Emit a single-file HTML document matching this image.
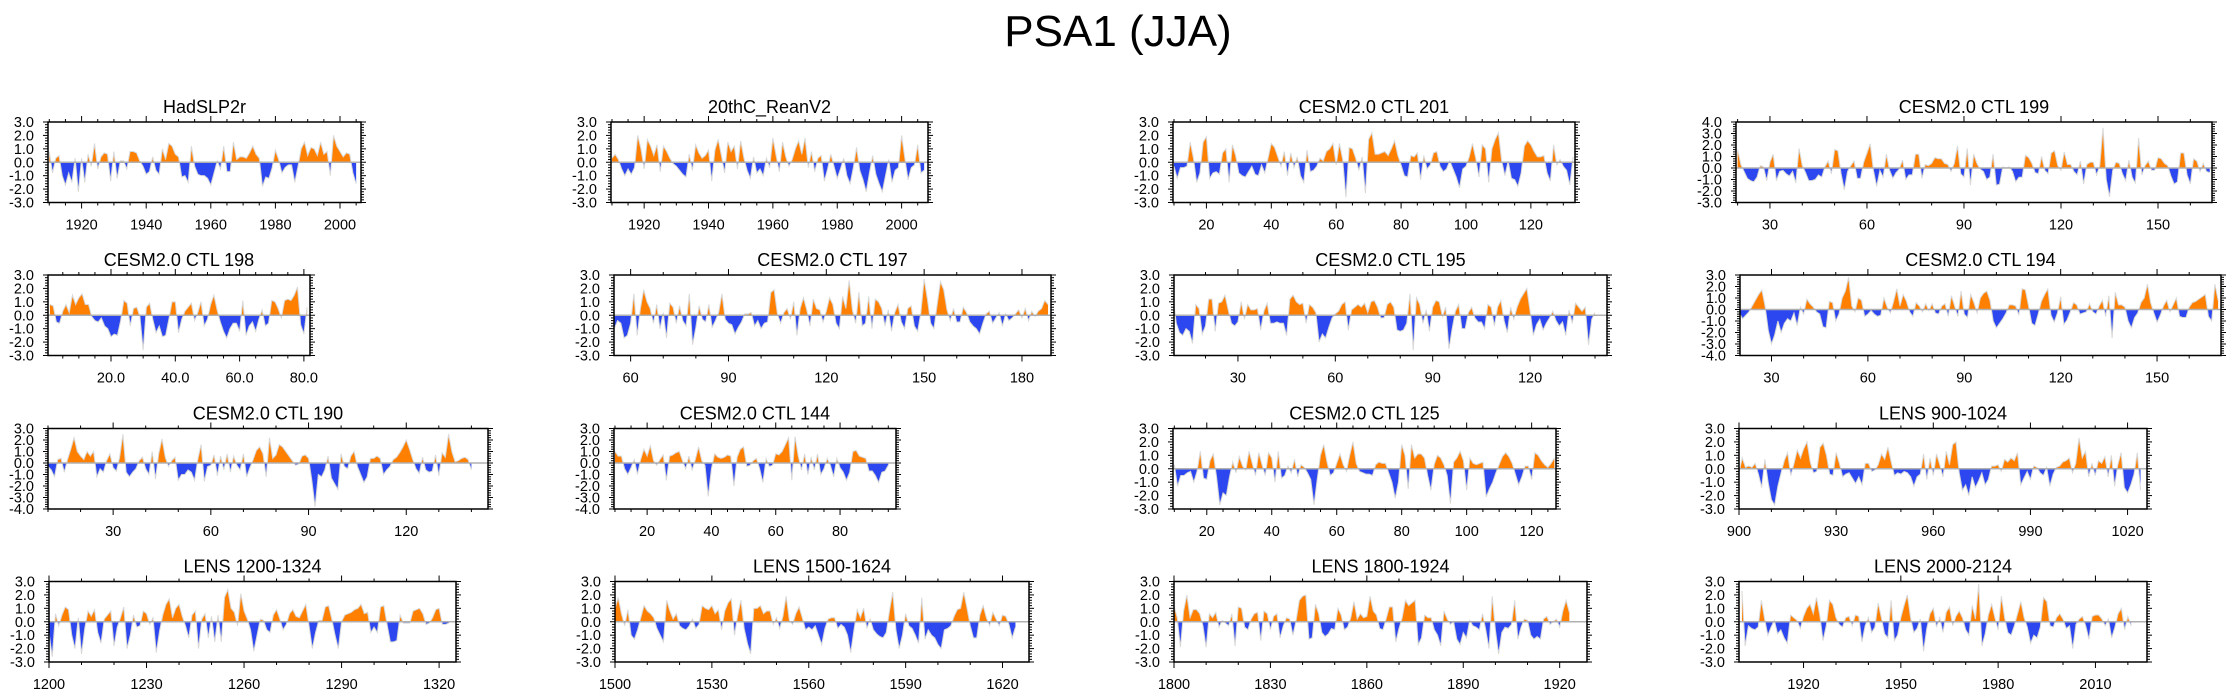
<!DOCTYPE html>
<html><head><meta charset="utf-8"><style>
html,body{margin:0;padding:0;background:#fff;}
svg{display:block;font-family:"Liberation Sans",Arial,sans-serif;}
</style></head><body>
<svg id="fig" width="2237" height="698" viewBox="0 0 2237 698">
<text x="1118" y="46" text-anchor="middle" font-size="44">PSA1 (JJA)</text>
</svg>
<script>
const hadslp = [0.8,-0.8,0.3,0.5,-1.0,-1.7,-0.8,-1.5,0.3,-2.2,0.3,-1.5,0.6,-0.3,1.4,-0.5,0.4,0.7,0.6,-1.4,0.8,-1.2,0.1,0.1,-0.5,0.8,0.8,0.7,0.1,-0.3,-0.9,-0.7,0.4,-0.6,-0.9,1.0,0.2,1.4,1.2,0.6,0.4,-1.1,-1.0,-1.5,1.2,-0.3,-0.9,-1.0,-1.0,-1.2,-1.7,-0.8,0.1,-0.5,1.2,-0.7,-0.7,1.5,0.2,0.4,0.4,0.3,0.7,1.2,0.6,0.3,-1.8,-1.1,-1.2,-0.4,0.9,0.2,-0.8,-0.4,-0.2,-0.2,-1.5,-0.3,1.0,1.5,0.5,1.1,1.0,0.5,1.5,0.6,0.8,-1.0,2.0,1.2,0.8,0.4,0.7,0.6,-0.8,-1.6];
const rean = [0.3,0.6,0.2,-0.5,-1.0,-0.5,-0.9,-0.4,2.0,1.0,-0.5,1.7,1.2,0.5,1.3,-0.7,1.2,0.8,0.3,-0.1,-0.3,-0.6,-0.9,-1.1,0.6,-0.6,1.3,0.7,0.3,0.5,0.9,-1.4,0.9,1.7,0.5,-0.8,1.5,0.8,1.2,-0.5,1.6,0.3,-0.6,-1.2,0.4,-0.8,-0.5,-1.0,0.3,-0.4,1.8,0.5,-0.7,1.5,0.4,-0.3,0.2,1.0,1.6,0.6,1.8,-0.4,0.8,-0.7,0.3,0.5,-1.4,-0.5,0.6,-0.3,-1.2,-0.5,0.3,-1.0,-1.6,-0.4,1.1,-0.6,-1.3,-2.2,-0.8,0.5,-0.9,-1.6,-2.2,-1.0,0.2,-1.5,-0.6,-0.4,2.0,0.3,-1.3,-0.4,-0.2,1.3,-0.8,-0.6];
const ctl201 = [-0.3,-1.2,-0.4,-0.4,-0.3,1.5,0.3,-1.5,-0.8,1.5,1.9,-1.2,-0.8,-0.7,-0.9,0.7,1.0,-1.5,1.3,0.5,-0.8,-1.0,-1.1,-0.7,-0.3,-0.9,-1.0,-0.2,-0.8,0.3,1.4,1.1,0.4,-0.3,0.8,-1.0,0.7,-0.4,0.4,-1.0,-1.5,0.9,-0.7,-0.6,-0.3,0.3,0.1,0.8,1.0,1.4,-0.2,1.4,0.2,-2.6,1.1,1.0,0.3,-0.6,0.4,-2.3,1.7,2.2,0.6,0.6,0.7,0.8,0.5,1.0,1.6,0.5,-0.2,-1.0,-1.1,0.5,0.4,0.7,-1.3,0.5,-0.5,-0.2,0.7,0.8,-0.3,-0.7,-0.5,0.1,-0.5,-1.1,-1.9,-0.5,-0.3,0.4,1.4,0.3,-1.1,1.3,1.0,-1.5,1.0,1.7,2.2,0.1,-1.0,0.1,-1.2,-1.3,-1.8,-0.8,1.2,1.6,1.3,0.8,0.4,0.4,0.5,-0.8,-1.4,1.3,-0.2,0.2,-0.3,-0.6,-1.7,0.4];
const ctl199 = [1.6,0.3,-0.3,-0.9,-1.1,-1.2,-0.8,0.2,0.1,-1.1,0.5,1.2,-1.1,-0.3,-0.2,-0.5,-0.7,-0.3,-1.3,1.7,0.2,-0.4,-1.1,-1.1,-1.0,-0.6,-0.8,0.1,0.6,-0.5,1.6,1.5,-0.5,-1.9,-0.3,0.2,0.6,-0.9,-0.9,0.5,1.3,2.1,-0.2,-1.6,-0.2,-0.8,1.2,-0.2,-0.9,-0.4,-0.1,0.7,-1.0,-0.6,-0.6,1.2,1.2,-0.9,0.3,0.2,0.4,0.9,0.8,0.8,0.4,0.3,-0.3,0.4,1.9,-0.5,-0.8,1.7,-1.5,1.2,0.4,-0.1,-0.3,-1.0,-0.8,1.2,-1.5,-1.4,0.1,0.0,0.1,-0.3,-1.2,-0.8,-0.8,1.1,0.9,0.4,-0.4,-0.5,1.0,-0.2,-0.5,1.3,1.5,0.2,-0.2,1.4,0.3,0.3,-0.3,-0.6,0.6,-1.4,0.3,0.5,0.5,-0.6,0.2,3.5,-1.0,-2.5,-0.2,0.5,0.4,-0.5,-1.1,0.7,-0.8,-1.3,2.6,-0.6,0.2,0.6,-0.2,-0.2,0.9,0.8,0.4,0.2,-0.7,-1.4,-1.2,1.3,1.3,-0.6,-1.4,0.8,0.6,-0.3,0.4,-0.3,-0.4];
const ctl198 = [0.8,0.7,-0.5,-0.6,0.3,0.8,0.2,1.5,0.8,1.3,1.6,0.8,0.8,-0.1,-0.4,-0.5,-0.2,-0.8,-1.0,-1.6,-1.4,-1.5,-0.4,1.1,0.9,-0.8,0.5,0.6,-0.1,-2.6,0.6,0.9,-0.3,-1.3,-0.8,-1.6,-1.5,-0.3,1.0,1.0,-1.3,-0.3,0.3,0.6,0.9,-0.4,0.2,1.0,-0.8,-0.3,0.8,1.5,0.4,-0.5,-1.2,-1.7,-1.0,-0.6,-0.6,-1.2,1.1,-1.5,-0.8,-0.5,-1.2,-0.3,0.4,-0.8,-0.6,1.1,1.0,0.5,-0.2,1.1,1.2,1.1,1.5,2.1,-0.7,-1.4,0.6];
const ctl197 = [-1.0,-0.4,-0.6,-1.7,-1.5,-0.6,1.6,-1.5,0.5,1.9,1.0,0.5,-0.6,0.8,-1.0,0.2,-1.7,0.9,0.6,-0.6,0.7,-0.4,-0.8,1.6,-2.2,-0.9,0.7,-0.3,-0.5,0.8,-0.9,-0.4,0.2,1.6,-0.3,-0.6,-0.7,-1.4,-0.9,-0.5,0.1,0.1,0.2,-0.8,-0.4,-1.0,-0.6,-0.5,1.7,1.9,0.1,-0.6,0.2,0.5,-0.3,1.0,-1.5,0.5,1.3,0.4,-0.8,1.2,0.5,0.4,-0.5,0.3,1.3,0.8,-0.6,-1.0,1.4,0.5,2.6,0.4,-0.6,1.7,-0.8,-0.6,1.4,-1.0,1.2,1.0,0.5,-0.8,0.4,-1.2,0.2,0.8,-0.5,-1.0,0.5,0.7,-0.8,-1.2,0.2,2.7,1.2,-0.6,-1.0,0.8,2.5,1.9,0.4,-0.4,0.5,-0.5,-0.5,0.6,0.2,-0.5,-0.8,-1.0,-1.4,-0.6,0.1,0.3,-0.6,-0.2,0.2,-0.8,0.1,-0.4,-0.2,0.1,0.4,-0.2,0.5,-0.4,0.3,-0.1,0.3,0.5,1.1,0.8];
const ctl195 = [1.4,-0.6,-1.3,-1.5,-1.0,-1.2,-2.1,0.8,0.5,-1.4,-0.8,1.2,1.2,-1.2,0.9,1.0,1.5,0.4,-0.6,-0.8,-0.5,1.0,-0.3,0.8,0.4,0.4,0.5,-1.1,0.3,0.9,-0.6,-0.6,-0.5,-0.6,-0.6,-1.5,1.2,1.5,1.0,0.8,0.9,-0.6,0.8,0.6,0.2,-2.0,-1.4,-1.7,-0.9,-0.2,0.1,0.3,0.8,1.0,-1.1,0.4,0.6,0.8,0.6,0.9,0.2,1.0,1.1,0.6,-0.2,-0.2,0.8,1.0,0.6,-1.1,-1.2,-1.1,-0.6,1.6,-2.6,1.3,0.8,-0.6,0.4,-1.2,0.6,1.1,1.0,-0.1,0.6,-2.5,-1.0,0.3,0.8,-1.0,-1.0,0.2,0.6,-0.2,-0.5,-0.5,-1.0,0.8,0.6,-0.8,0.6,1.1,-0.4,-1.3,0.6,-0.3,0.6,1.2,1.6,2.0,0.3,-1.5,-0.7,-0.3,-1.1,-0.6,-0.2,0.3,-0.4,-0.8,-0.5,-1.5,0.4,-0.6,0.9,0.6,0.3,0.6,-2.2,-0.3,0.2];
const ctl194 = [-0.3,-0.8,-0.5,-0.2,0.3,0.8,1.3,1.7,0.3,-1.8,-3.0,-2.2,-1.0,-2.0,-1.2,-0.8,-1.0,-0.3,-1.4,0.2,-0.4,0.9,0.5,0.2,-0.2,-0.4,-1.5,-1.6,0.7,0.6,-1.0,-0.4,1.0,1.6,2.8,0.3,-0.2,1.0,0.8,-0.6,-0.4,-0.1,-0.4,-0.6,-0.5,1.0,0.2,-0.3,0.7,1.8,0.3,1.3,0.7,-0.2,-0.6,0.6,0.3,-0.2,0.5,-0.1,0.5,-0.3,-0.4,0.3,0.5,-0.6,1.2,0.3,-0.6,1.6,-0.4,-0.7,1.3,0.6,-0.3,1.0,1.4,1.6,0.8,-1.0,-1.6,-1.2,-0.8,-0.3,0.4,0.4,0.3,-0.5,1.8,1.7,0.3,-1.2,-1.4,-0.4,0.7,1.3,1.8,-0.5,-1.1,-0.3,1.1,-1.3,-0.9,-0.2,0.6,0.4,-0.4,-0.3,-0.2,0.5,-0.2,-0.4,0.3,0.8,-0.6,1.2,-2.5,1.5,0.4,0.4,0.2,-1.0,-1.6,-0.7,-0.3,0.6,1.0,2.2,0.6,-0.3,-1.1,-0.5,0.3,0.8,-0.2,0.4,1.0,-0.6,-0.7,-0.7,0.2,0.6,0.7,0.9,1.1,1.3,-0.6,-1.0,2.2,0.8];
const ctl190 = [-0.3,-0.6,-1.2,0.3,0.4,-0.8,0.3,1.2,2.2,1.0,0.6,0.3,1.0,0.6,1.0,-1.2,-0.5,-0.8,0.2,0.8,-0.4,-0.7,0.5,2.5,-0.8,-1.2,-0.8,-0.5,0.2,0.5,-0.5,-1.0,1.0,-1.4,0.8,2.1,0.5,-0.3,0.2,0.5,-1.5,-1.0,-1.0,-0.6,-0.8,-1.5,0.3,1.6,-1.6,-0.3,-0.2,0.7,-1.1,0.6,-0.6,0.8,-0.8,0.6,-0.2,-0.6,0.8,-1.2,-0.4,0.3,1.1,1.4,0.8,-1.2,2.2,0.4,0.7,1.6,1.4,1.0,0.6,0.2,-0.2,-0.1,0.6,0.7,0.4,-1.5,-3.8,-1.0,-1.2,-0.6,0.6,-1.3,-1.8,-2.3,0.8,-0.3,-0.5,0.6,1.0,-0.3,-1.0,-1.7,-1.2,0.4,0.4,0.6,0.4,-1.0,-0.6,-0.3,0.3,0.5,0.9,1.4,2.0,1.2,0.3,-0.5,-0.9,0.5,-0.6,-0.8,-0.7,0.7,-1.1,0.9,0.5,2.5,1.0,0.1,0.2,0.4,0.5,0.3,-0.6];
const ctl144 = [1.0,0.6,0.6,-0.5,-1.0,-0.4,0.3,-1.0,0.3,1.2,0.6,1.5,0.2,-0.2,0.3,0.7,-1.5,0.6,0.7,0.9,1.0,0.2,-0.5,0.6,-0.6,0.3,1.4,0.2,-0.2,-2.9,-0.5,0.8,0.5,0.4,0.5,0.7,0.6,-2.0,0.5,1.2,1.4,-0.3,-0.2,0.2,0.4,-0.5,-1.7,0.4,-0.3,-0.2,0.8,0.7,1.0,1.6,2.2,-1.5,2.3,0.6,-0.6,0.8,-1.0,0.5,-0.6,0.8,-1.0,-0.5,0.4,-0.2,-1.2,0.4,-0.4,-0.8,-1.5,-0.8,1.0,1.1,0.6,0.5,0.4,-0.7,-0.7,-1.1,-1.7,-0.8,-0.7,-0.2];
const ctl125 = [0.3,-1.3,-0.5,-0.5,-0.3,-0.2,-1.0,-0.2,1.3,-0.7,-0.8,0.6,1.1,-0.6,-2.7,-1.8,-2.0,-0.6,0.5,-0.3,0.9,0.2,-0.1,1.3,0.4,-0.5,1.2,0.3,-0.5,1.2,0.8,-1.0,1.3,-0.7,-0.5,0.2,-0.3,0.7,-0.6,0.3,0.1,-0.3,-0.8,-2.7,-0.8,1.0,1.8,0.5,-0.5,-0.3,0.4,1.1,0.3,-0.2,1.0,2.0,0.4,-0.2,-0.3,-0.4,-0.4,-0.5,0.3,0.5,0.4,0.4,-0.3,-1.0,-2.2,-1.0,1.8,1.0,-1.5,1.8,0.8,1.1,1.1,0.8,-0.5,-1.6,0.3,1.0,0.8,0.3,-0.5,-2.6,0.5,0.8,1.3,0.6,-1.6,0.8,0.4,0.3,0.4,0.5,-2.1,-1.5,-1.0,-0.3,0.3,0.9,1.2,0.9,0.4,-0.4,-1.2,-0.6,0.2,0.2,-0.8,1.2,1.0,0.6,0.3,0.1,0.4,0.8];
const lens900 = [-0.3,0.8,0.1,0.2,0.1,0.4,-0.4,-1.4,0.7,-1.0,-2.3,-2.7,-1.3,-0.3,0.6,1.2,-0.5,0.4,1.4,0.8,1.5,2.0,0.5,-0.3,-0.2,1.6,1.9,1.0,-0.4,-0.5,1.2,0.4,-0.6,-0.4,-0.3,-0.7,-1.1,-0.6,-1.2,0.4,0.4,-0.2,-0.1,0.3,1.1,0.7,1.6,0.5,-0.5,-0.3,-0.4,-0.2,-0.3,-0.6,-1.3,-0.6,-0.4,1.1,-0.8,0.8,-0.5,1.1,0.3,-0.6,1.3,0.3,1.8,2.0,-0.3,-1.6,-1.2,-2.0,-0.6,-1.4,-0.9,-0.3,-1.2,-0.8,0.2,0.2,0.3,-0.2,0.7,0.5,0.8,0.6,1.2,-1.2,-0.7,-0.2,-0.8,0.2,0.1,-0.3,-0.5,0.1,-1.3,-0.4,0.1,0.2,0.5,0.6,0.8,-0.3,0.4,2.3,0.8,1.3,-0.6,0.4,-0.5,0.6,0.4,0.9,-0.6,1.0,-1.3,0.3,1.2,-1.4,-1.8,-1.2,-0.4,1.2,-1.6];
const lens1200 = [-0.8,-2.6,0.6,-0.3,0.5,1.1,0.9,-1.0,-2.0,0.3,-2.4,-0.5,0.8,0.4,0.9,-0.8,-1.6,0.2,0.5,0.8,-1.8,-0.4,0.3,1.1,-2.0,-1.0,0.5,-0.4,-0.3,0.8,0.6,-0.2,0.3,-2.3,-0.7,0.5,1.3,1.7,0.3,1.0,1.3,0.4,-0.3,-1.2,0.5,0.8,-2.0,0.2,0.6,-1.2,0.4,-1.5,0.5,-1.5,1.8,2.4,1.0,0.7,-0.3,2.1,0.8,0.2,-0.6,-2.2,-1.0,0.2,0.1,-0.6,-0.8,0.5,0.9,0.2,-0.6,-0.2,0.6,0.9,0.4,0.3,0.8,1.3,-0.3,-2.0,-0.8,0.1,0.1,1.1,1.2,0.2,-1.0,-2.0,0.0,0.5,0.6,0.7,0.9,1.0,1.3,0.6,0.7,-0.8,-0.4,-0.8,1.1,1.2,-0.2,-1.5,-1.5,-1.4,0.5,-0.1,-0.1,-0.1,0.8,0.9,1.0,0.6,-0.2,-0.1,0.3,0.9,1.0,-0.2,-0.2,-0.1];
const lens1500 = [1.0,1.8,0.6,-0.3,0.9,-1.0,-1.3,-0.6,0.3,1.2,0.8,0.6,0.3,-0.5,-1.0,-1.5,1.6,0.8,0.2,0.6,-0.3,-0.5,-0.6,-0.3,0.2,-0.5,-0.2,1.2,1.0,0.9,1.2,0.6,0.9,-0.6,0.8,1.4,1.7,-1.0,0.5,1.6,-0.5,-1.6,-2.4,1.0,1.0,1.2,0.6,0.8,0.8,-0.2,0.3,-0.5,0.4,1.9,0.1,-0.2,0.6,1.1,0.3,-0.6,-0.4,-0.6,-0.3,-1.0,-1.7,-0.5,0.2,0.3,0.3,-0.5,-0.2,-0.4,-1.0,-2.3,-0.6,0.9,0.3,1.0,-0.5,0.2,-0.6,-0.9,-1.1,-1.2,-0.8,0.8,2.2,-0.6,-2.0,-1.0,0.6,-0.3,-0.5,-1.0,-1.6,1.8,-1.3,-0.6,-1.0,-1.2,-1.7,-2.0,-0.6,-0.5,-0.3,0.4,0.9,1.0,2.2,1.0,-0.3,-1.2,-1.2,0.5,1.2,0.3,-0.3,0.7,0.2,-0.3,0.5,0.4,-0.2,-1.2,-0.4];
const lens1800 = [1.2,0.3,-1.9,0.8,2.0,0.3,0.9,0.9,0.6,-0.3,-1.9,0.6,0.3,0.7,-0.4,0.1,-0.1,-0.3,0.6,-1.8,1.1,1.0,-0.4,-0.6,0.2,0.6,0.7,-1.4,0.8,0.6,-0.6,0.4,0.6,-1.2,-0.3,0.3,0.2,-1.0,0.1,1.6,1.9,2.0,-1.3,-1.2,1.3,0.6,-0.8,-1.1,-0.9,-0.5,-0.6,1.0,0.5,-0.6,-0.4,0.3,1.5,0.2,0.6,0.3,0.4,1.9,0.8,0.5,-0.5,-0.6,0.2,1.1,1.1,-1.5,-0.5,0.3,1.6,1.2,1.4,1.6,-1.7,-1.2,0.5,0.3,0.3,-0.6,-1.0,-1.8,0.8,0.2,-0.2,0.0,-1.3,-1.7,-0.8,-1.2,0.1,-0.3,-0.4,-0.6,0.6,-0.6,-2.0,1.9,-0.6,-2.4,-0.8,-0.4,-0.5,-0.2,1.6,-1.3,-0.4,0.2,0.1,-1.0,-1.3,-1.1,-1.3,0.2,0.4,-0.2,0.0,0.2,-0.4,0.8,1.6,0.7];
const lens2000 = [2.3,-1.8,-0.3,-0.5,-0.6,-0.4,1.6,0.2,-1.0,-0.4,0.1,-0.9,-0.6,-1.2,-1.6,0.5,0.3,0.1,-0.5,0.4,1.0,1.3,0.6,1.8,0.5,-1.4,-0.3,1.6,1.3,0.3,-0.2,-0.4,0.3,0.4,-0.3,0.5,0.4,-1.5,-0.3,0.3,-0.8,-0.4,1.4,0.3,-0.9,-1.2,1.6,-1.4,-1.0,0.3,1.2,2.0,0.3,-0.8,-0.5,0.2,-2.2,-0.5,0.6,1.0,-0.4,0.3,-0.8,0.7,1.1,-0.3,0.4,0.8,0.3,-0.6,-1.0,1.2,0.2,2.8,-1.8,-0.9,0.5,1.3,0.3,-0.6,1.9,0.3,-0.8,-1.0,-0.3,0.6,1.5,0.3,-0.4,-1.6,-1.0,-1.2,-0.4,1.8,1.5,-0.3,-0.4,0.3,0.6,0.2,-0.5,-0.3,-2.0,-0.2,0.2,0.4,-0.3,-1.3,0.4,0.5,0.5,0.2,-0.3,0.2,-1.2,-0.4,0.6,1.0,-0.6,0.4,-0.3];

const panelTitles = ['HadSLP2r','20thC_ReanV2','CESM2.0 CTL 201','CESM2.0 CTL 199','CESM2.0 CTL 198','CESM2.0 CTL 197','CESM2.0 CTL 195','CESM2.0 CTL 194','CESM2.0 CTL 190','CESM2.0 CTL 144','CESM2.0 CTL 125','LENS 900-1024','LENS 1200-1324','LENS 1500-1624','LENS 1800-1924','LENS 2000-2124'];
const panelSeries = [hadslp,rean,ctl201,ctl199,ctl198,ctl197,ctl195,ctl194,ctl190,ctl144,ctl125,lens900,lens1200,lens1500,lens1800,lens2000];
const startYears = [1910,1910,10,20,1,55,10,20,10,10,10,900,1200,1500,1800,1901];
const xDomains = [[1909.6,2006.5],[1909.7,2008.2],[9.7,133.6],[19.5,166.7],[0.4,81.9],[54.9,188.9],[10.3,143.7],[20.2,169.9],[10,145.1],[9.7,97.4],[9.6,127.5],[900,1026],[1200,1325.2],[1500,1628.2],[1800,1928.5],[1900.1,2025.9]];
const yDomains = [[-3,3],[-3,3],[-3,3],[-3,4],[-3,3],[-3,3],[-3,3],[-4,3],[-4,3],[-4,3],[-3,3],[-3,3],[-3,3],[-3,3],[-3,3],[-3,3]];
const xTickLabels = [
 [1920,1940,1960,1980,2000],[1920,1940,1960,1980,2000],[20,40,60,80,100,120],[30,60,90,120,150],
 [20,40,60,80],[60,90,120,150,180],[30,60,90,120],[30,60,90,120,150],
 [30,60,90,120],[20,40,60,80],[20,40,60,80,100,120],[900,930,960,990,1020],
 [1200,1230,1260,1290,1320],[1500,1530,1560,1590,1620],[1800,1830,1860,1890,1920],[1920,1950,1980,2010]];
const xLabelDecimals = [0,0,0,0,1,0,0,0,0,0,0,0,0,0,0,0];

// layout (not data)
const boxX = [[48,361],[611,928],[1173,1575],[1736,2212],[48,310],[614,1051],[1174,1607],[1740,2221],[48,488],[614,896],[1173,1556],[1739,2147],[49,456],[615,1029],[1174,1587],[1739,2147]];
const rowTop = [122,275,428.5,581.5];
const boxH = 80.5;
const NS = 'http://www.w3.org/2000/svg';
const svg = document.getElementById('fig');
function mk(tag, attrs, parent){const e=document.createElementNS(NS,tag);for(const k in attrs)e.setAttribute(k,attrs[k]);parent.appendChild(e);return e;}

panelTitles.forEach((title,p)=>{
  const row = Math.floor(p/4);
  const L = boxX[p][0], R = boxX[p][1], T = rowTop[row], B = T+boxH;
  const [xmin,xmax] = xDomains[p], [ymin,ymax] = yDomains[p];
  const sx = v => L + (v-xmin)/(xmax-xmin)*(R-L);
  const sy = v => B - (v-ymin)/(ymax-ymin)*(B-T);
  const g = mk('g',{},svg);
  
  
  const t = mk('text',{x:(L+R)/2,y:T-9,'text-anchor':'middle','font-size':18},g);
  t.textContent = title;
  
  
  const vals = panelSeries[p], s0 = startYears[p];
  const y0 = sy(0);
  let d = 'M'+sx(s0).toFixed(2)+','+y0.toFixed(2);
  let line = '';
  vals.forEach((v,i)=>{const px=sx(s0+i).toFixed(2), py=sy(v).toFixed(2); d+=' L'+px+','+py; line+=(i?' L':'M')+px+','+py;});
  d += ' L'+sx(s0+vals.length-1).toFixed(2)+','+y0.toFixed(2)+' Z';
  const defs = mk('defs',{},g);
  const cp = mk('clipPath',{id:'cpos'+p},defs); mk('rect',{x:L,y:T,width:R-L,height:y0-T},cp);
  const cn = mk('clipPath',{id:'cneg'+p},defs); mk('rect',{x:L,y:y0,width:R-L,height:B-y0},cn);
  const pos = mk('path',{d:d,fill:'#ff8000','clip-path':'url(#cpos'+p+')'},g);
  
  
  const neg = mk('path',{d:d,fill:'#2c47ef','clip-path':'url(#cneg'+p+')'},g);
  
  
  const ln = mk('path',{d:line,fill:'none',stroke:'#d8d8d8','stroke-width':1},g);
  
  
  const zl = mk('line',{x1:L,x2:R,y1:y0,y2:y0,stroke:'#b0b0b0','stroke-width':1.5},g);
  
  
  const box = mk('rect',{x:L,y:T,width:R-L,height:B-T,fill:'none',stroke:'#000','stroke-width':1.5},g);
  
  
  for(let v=ymin; v<=ymax+1e-9; v+=0.2){
    const vv=Math.round(v*10)/10, y=sy(vv), major=Math.abs(vv-Math.round(vv))<1e-6, len=major?5:3;
    mk('line',{x1:L-len,x2:L,y1:y,y2:y,stroke:'#000','stroke-width':1},g);
    mk('line',{x1:R,x2:R+len,y1:y,y2:y,stroke:'#000','stroke-width':1},g);
    if(major){
      const yl = mk('text',{x:L-14,y:y+5,'text-anchor':'end','font-size':14.5},g);
      yl.textContent = vv.toFixed(1);
      
      
    }
  }
  const ticks = xTickLabels[p], step = ticks[1]-ticks[0], minor = step===20?5:10;
  for(let v=Math.ceil(xmin/minor)*minor; v<=xmax; v+=minor){
    const x=sx(v), major=((v-ticks[0])%step+step)%step===0, len=major?6:3;
    mk('line',{x1:x,x2:x,y1:B,y2:B+len,stroke:'#000','stroke-width':1},g);
    mk('line',{x1:x,x2:x,y1:T-len,y2:T,stroke:'#000','stroke-width':1},g);
  }
  ticks.forEach(v=>{
    const xl = mk('text',{x:sx(v),y:B+27,'text-anchor':'middle','font-size':14.5},g);
    xl.textContent = v.toFixed(xLabelDecimals[p]);
    
    
  });
});
</script>
</body></html>
